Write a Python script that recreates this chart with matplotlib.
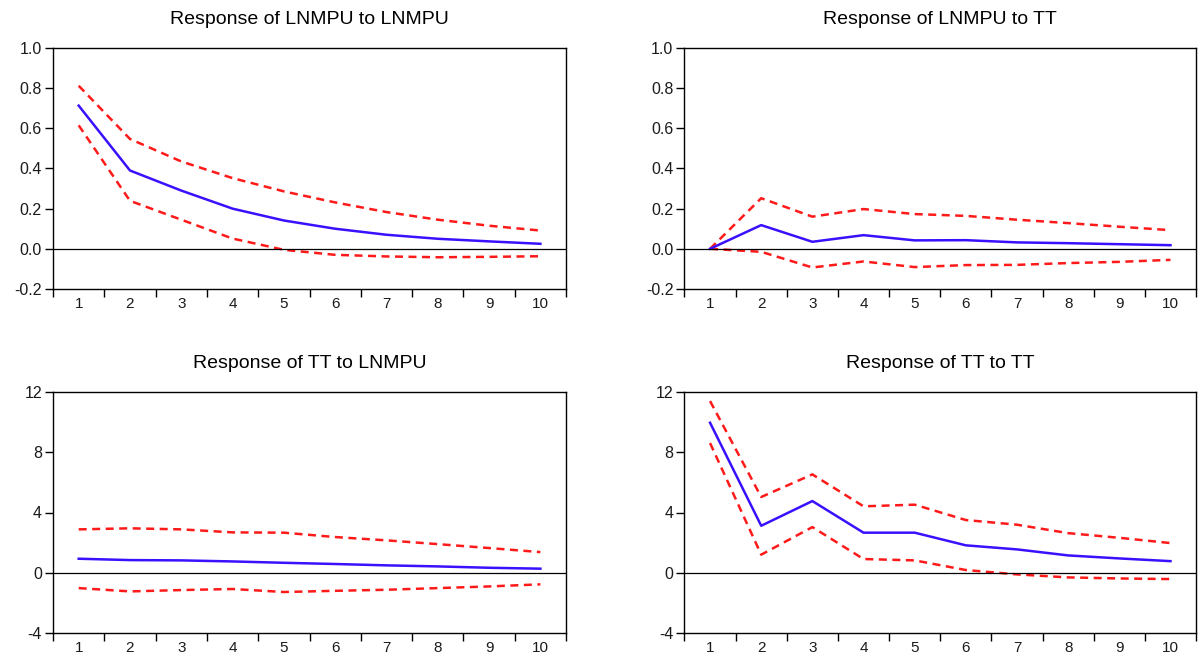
import matplotlib
matplotlib.use("Agg")
import matplotlib.pyplot as plt
from matplotlib.ticker import FixedLocator

plt.rcParams['font.family'] = ['Liberation Sans', 'DejaVu Sans']

periods = [1, 2, 3, 4, 5, 6, 7, 8, 9, 10]

titles = ["Response of LNMPU to LNMPU", "Response of LNMPU to TT",
          "Response of TT to LNMPU", "Response of TT to TT"]

# LNMPU to LNMPU
r11 = [0.713, 0.39, 0.29, 0.20, 0.141, 0.10, 0.07, 0.05, 0.037, 0.025]
u11 = [0.812, 0.547, 0.435, 0.352, 0.286, 0.231, 0.183, 0.145, 0.115, 0.091]
l11 = [0.615, 0.239, 0.145, 0.051, -0.005, -0.03, -0.038, -0.042, -0.04, -0.037]

# LNMPU to TT
r12 = [0.0, 0.118, 0.035, 0.068, 0.042, 0.043, 0.032, 0.028, 0.023, 0.018]
u12 = [0.0, 0.252, 0.16, 0.198, 0.173, 0.164, 0.145, 0.128, 0.11, 0.093]
l12 = [0.0, -0.015, -0.093, -0.063, -0.091, -0.081, -0.08, -0.071, -0.065, -0.055]

# TT to LNMPU
r21 = [0.93, 0.84, 0.82, 0.75, 0.66, 0.58, 0.49, 0.42, 0.33, 0.27]
u21 = [2.88, 2.95, 2.88, 2.68, 2.66, 2.37, 2.15, 1.90, 1.64, 1.37]
l21 = [-1.02, -1.24, -1.15, -1.08, -1.28, -1.20, -1.13, -1.02, -0.91, -0.77]

# TT to TT
r22 = [9.96, 3.12, 4.76, 2.66, 2.66, 1.82, 1.55, 1.15, 0.95, 0.77]
u22 = [11.4, 5.03, 6.53, 4.41, 4.52, 3.50, 3.19, 2.63, 2.32, 1.97]
l22 = [8.61, 1.20, 3.03, 0.91, 0.82, 0.18, -0.11, -0.31, -0.38, -0.42]

responses = [r11, r12, r21, r22]
uppers = [u11, u12, u21, u22]
lowers = [l11, l12, l21, l22]

yticks_top = [-0.2, 0.0, 0.2, 0.4, 0.6, 0.8, 1.0]
ytick_labels_top = ["-0.2", "0.0", "0.2", "0.4", "0.6", "0.8", "1.0"]
yticks_bot = [-4, 0, 4, 8, 12]
ytick_labels_bot = ["-4", "0", "4", "8", "12"]

fig = plt.figure(figsize=(12, 6.56), dpi=100)

lefts = [0.0442, 0.5704]
widths = [0.4275, 0.4263]
bottoms = [0.5595, 0.0351]
height = 0.3673

blue = "#3a10ff"
red = "#ff1a1a"

for i in range(4):
    row, col = divmod(i, 2)
    ax = fig.add_axes([lefts[col], bottoms[row], widths[col], height])
    ax.plot(periods, uppers[i], color=red, lw=1.8, ls=(0, (3.2, 2.2)))
    ax.plot(periods, lowers[i], color=red, lw=1.8, ls=(0, (3.2, 2.2)))
    ax.plot(periods, responses[i], color=blue, lw=1.8)
    ax.axhline(0, color="black", lw=0.9)
    ax.set_xlim(0.5, 10.5)
    if row == 0:
        ax.set_ylim(-0.2, 1.0)
        ax.set_yticks(yticks_top)
        ax.set_yticklabels(ytick_labels_top)
    else:
        ax.set_ylim(-4, 12)
        ax.set_yticks(yticks_bot)
        ax.set_yticklabels(ytick_labels_bot)
    ax.set_xticks(periods)
    ax.set_xticklabels([str(p) for p in periods])
    ax.xaxis.set_minor_locator(FixedLocator([p - 0.5 for p in periods] + [10.5]))
    ax.tick_params(axis='x', which='major', length=0, pad=5.5, labelsize=11)
    ax.tick_params(axis='x', which='minor', length=6, width=1.0, direction='out')
    ax.tick_params(axis='y', which='major', length=6, width=1.0, direction='out',
                   labelsize=11.5, pad=2)
    for lab in ax.get_xticklabels() + ax.get_yticklabels():
        lab.set_color("#1a1a1a")
    for s in ax.spines.values():
        s.set_linewidth(1.0)
    ax.set_title(titles[i], fontsize=14, pad=17)

fig.savefig("out.png", dpi=100)
